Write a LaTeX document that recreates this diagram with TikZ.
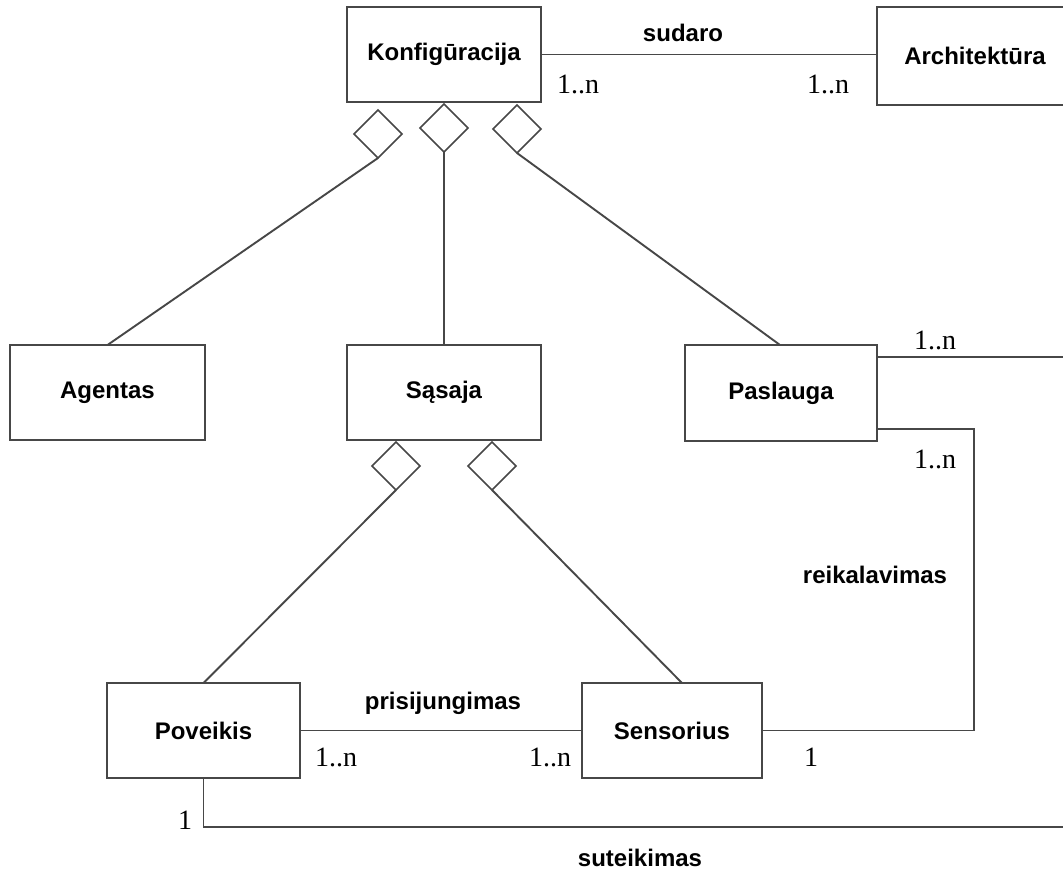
\documentclass[tikz,border=0pt]{standalone}
\usepackage{fontspec}
\setmainfont{Liberation Serif}
\newfontfamily\labfont{Liberation Sans}
\usetikzlibrary{shapes.geometric,calc}
\begin{document}
\begin{tikzpicture}[x=1pt,y=-1pt,
  line width=1.9pt, draw=black!72,
  entity/.style={draw=black!72, fill=white, minimum width=194pt, minimum height=95pt,
    inner sep=0pt, outer sep=0pt, font=\labfont\bfseries\fontsize{24}{28}\selectfont},
  agg/.style={draw=black!72, fill=white, diamond, minimum width=48pt, minimum height=48pt,
    inner sep=0pt, outer sep=0pt, line width=1.6pt},
  link/.style={draw=black!72, line width=1.9pt},
  role/.style={font=\labfont\bfseries\fontsize{24}{28}\selectfont, inner sep=0pt},
  mult/.style={font=\fontsize{28}{30}\selectfont, inner sep=0pt}]
\useasboundingbox (0,0) rectangle (1063,873);
\clip (0,0) rectangle (1063,873);

% classes
\node[entity] (konf) at (444,54.5) {Konfigūracija};
\node[entity, minimum width=196pt, minimum height=98pt] (arch) at (975,56) {Architektūra};
\node[entity, minimum width=195pt] (agent) at (107.5,392.5) {Agentas};
\node[entity] (sas) at (444,392.5) {Sąsaja};
\node[entity, minimum width=192pt, minimum height=96pt] (pas) at (781,393) {Paslauga};
\node[entity, minimum width=193pt] (pov) at (203.5,730.5) {Poveikis};
\node[entity, minimum width=180pt] (sens) at (672,730.5) {Sensorius};

% aggregation diamonds
\node[agg, anchor=north] (dk1) at (378,110) {};
\node[agg, anchor=north] (dk2) at (444,104) {};
\node[agg, anchor=north] (dk3) at (517,105) {};
\node[agg, anchor=north] (ds1) at (396,442) {};
\node[agg, anchor=north] (ds2) at (492,442) {};

% attachment points on Paslauga and free ends on the right border
\coordinate (pA) at ($(pas.north east)+(0,12)$);
\coordinate (pB) at ($(pas.south east)+(0,-12)$);
\coordinate (eA) at (pA -| 1063,0);
\coordinate (cR) at (pB -| 974,0);
\coordinate (cB) at (pov.south |- 0,827);
\coordinate (eB) at (1063,827);

% connectors
\draw[link] (konf.east) -- (konf.east -| arch.west);
\draw[link] (dk1.south) -- (agent.north);
\draw[link] (dk2.south) -- (sas.north);
\draw[link] (dk3.south) -- ($(pas.north)+(-1,0)$);
\draw[link] (ds1.south) -- (pov.north);
\draw[link] (ds2.south) -- ($(sens.north)+(10,0)$);
\draw[link] (pov.east) -- (sens.west);
\draw[link] (pA) -- (eA);
\draw[link] (pB) -- (cR) |- (sens.east);
\draw[link] (pov.south) -- (cB) -- (eB);

% association names
\node[role] (lsud) at (683,33) {sudaro};
\node[role] (lpri) at (443,703) {prisijungimas};
\node[role] (lrei) at (875,575) {reikalavimas};
\node[role] (lsut) at (640,858) {suteikimas};

% multiplicities
\node[mult] (m1) at (578,84) {1..n};
\node[mult] (m2) at (828,84) {1..n};
\node[mult] (m3) at (935,340) {1..n};
\node[mult] (m4) at (935,459) {1..n};
\node[mult] (m5) at (336,757) {1..n};
\node[mult] (m6) at (550,757) {1..n};
\node[mult] (m7) at (811,757) {1};
\node[mult] (m8) at (185,820) {1};
\end{tikzpicture}
\end{document}
